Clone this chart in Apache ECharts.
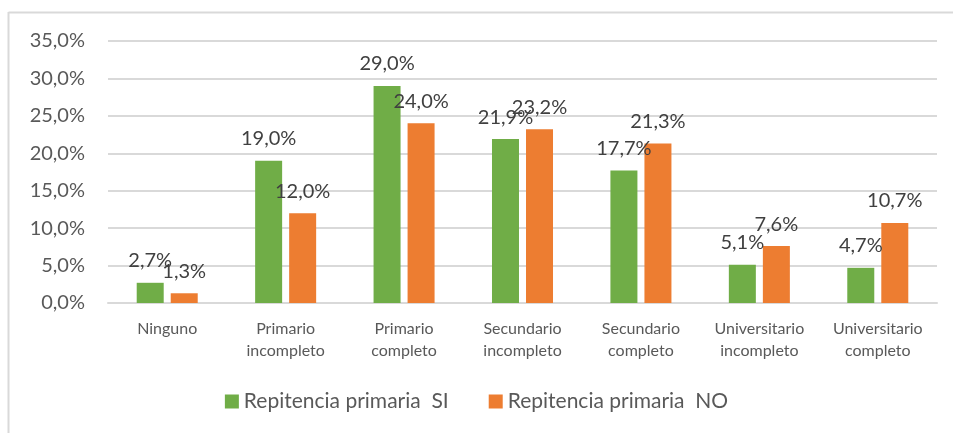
<!DOCTYPE html>
<html>
<head>
<meta charset="utf-8">
<script src="https://cdn.jsdelivr.net/npm/echarts@6/dist/echarts.min.js"></script>
<style>
  html, body { margin: 0; padding: 0; background: #fff; }
  #chart { width: 953px; height: 433px; }
</style>
</head>
<body>
<div id="chart"></div>
<script>
// datos del gráfico
var categorias = ['Ninguno', 'Primario\nincompleto', 'Primario\ncompleto', 'Secundario\nincompleto',
    'Secundario\ncompleto', 'Universitario\nincompleto', 'Universitario\ncompleto'];
var serieSI = [2.7, 19.0, 29.0, 21.9, 17.7, 5.1, 4.7];
var serieNO = [1.3, 12.0, 24.0, 23.2, 21.3, 7.6, 10.7];
var nombres = ['Repitencia primaria  SI', 'Repitencia primaria  NO'];

var fuente = 'Lato, "Open Sans", sans-serif';

function pct(v) {
    return v.toFixed(1).replace('.', ',') + '%';
}

var myChart = echarts.init(document.getElementById('chart'));
var option = {
    animation: false,
    textStyle: { fontFamily: fuente },
    grid: { left: 108, right: 16, top: 41, bottom: 130 },
    // borde del área del gráfico (solo arriba e izquierda se ven)
    graphic: [
        { type: 'line', shape: { x1: 8.5, y1: 12.5, x2: 953, y2: 12.5 }, style: { stroke: '#d9d9d9', lineWidth: 2 } },
        { type: 'line', shape: { x1: 8.5, y1: 12, x2: 8.5, y2: 433 }, style: { stroke: '#d9d9d9', lineWidth: 2 } }
    ],
    legend: {
        bottom: 16,
        left: 'center',
        itemWidth: 14,
        itemHeight: 14,
        itemGap: 40,
        icon: 'rect',
        textStyle: { fontSize: 21, color: '#595959', fontFamily: fuente },
        data: nombres
    },
    xAxis: {
        type: 'category',
        data: categorias,
        axisLine: { lineStyle: { color: '#d9d9d9', width: 2 } },
        axisTick: { show: false },
        axisLabel: { color: '#595959', fontSize: 16, lineHeight: 22, margin: 15, interval: 0 }
    },
    yAxis: {
        type: 'value',
        min: 0,
        max: 35,
        interval: 5,
        axisLine: { show: false },
        axisTick: { show: false },
        splitLine: { lineStyle: { color: '#d9d9d9', width: 2 } },
        axisLabel: { color: '#595959', fontSize: 20, margin: 23, formatter: function (v) { return pct(v); } }
    },
    series: [
        {
            name: nombres[0],
            type: 'bar',
            data: serieSI,
            barWidth: 27,
            barGap: '26%',
            itemStyle: { color: '#70ad47' },
            label: {
                show: true, position: 'top', distance: 12,
                color: '#404040', fontSize: 20,
                formatter: function (p) { return pct(p.value); }
            }
        },
        {
            name: nombres[1],
            type: 'bar',
            data: serieNO,
            barWidth: 27,
            itemStyle: { color: '#ed7d31' },
            label: {
                show: true, position: 'top', distance: 12,
                color: '#404040', fontSize: 20,
                formatter: function (p) { return pct(p.value); }
            }
        }
    ]
};
myChart.setOption(option);
</script>
</body>
</html>
